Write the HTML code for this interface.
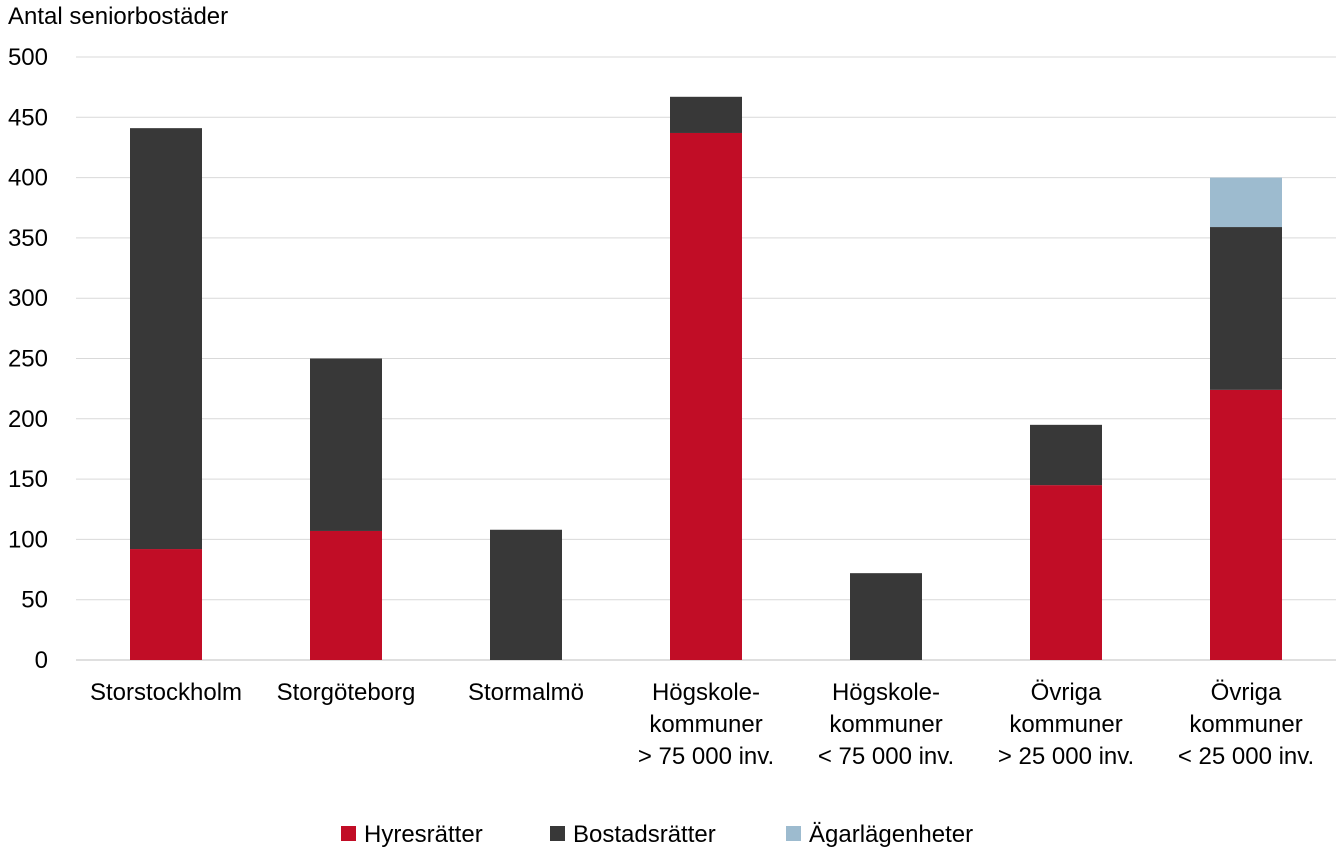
<!DOCTYPE html>
<html><head><meta charset="utf-8"><style>
body{margin:0;background:#fff;}
svg{display:block;font-family:"Liberation Sans",Arial,sans-serif;}
</style></head><body>
<svg id="chart" width="1336" height="851" viewBox="0 0 1336 851">
<text x="8" y="24" font-size="24" fill="#000">Antal seniorbostäder</text>
<g id="grid"></g><g id="bars"></g><g id="xlabels"></g>
<g>
<g><rect x="341" y="826" width="15" height="15" fill="#c10d26"/><text x="364" y="842" font-size="24">Hyresrätter</text></g>
<g><rect x="550" y="826" width="15" height="15" fill="#383838"/><text x="573" y="842" font-size="24">Bostadsrätter</text></g>
<g><rect x="786" y="826" width="15" height="15" fill="#9dbbcf"/><text x="809" y="842" font-size="24">Ägarlägenheter</text></g>
</g>
</svg>
<script>
const categories=[["Storstockholm"],["Storgöteborg"],["Stormalmö"],["Högskole-","kommuner","> 75 000 inv."],["Högskole-","kommuner","< 75 000 inv."],["Övriga","kommuner","> 25 000 inv."],["Övriga","kommuner","< 25 000 inv."]];
const hyresratter=[92,107,0,437,0,145,224];
const bostadsratter=[349,143,108,30,72,50,135];
const agarlagenheter=[0,0,0,0,0,0,41];
const yTicks=[0,50,100,150,200,250,300,350,400,450,500];
const colors=["#c10d26","#383838","#9dbbcf"];
const names=["hyresratter","bostadsratter","agarlagenheter"];
const NS="http://www.w3.org/2000/svg";
const y0=660,y1=57,yMax=500,left=76,step=180,bw=72;
const y=v=>y0-(v/yMax)*(y0-y1);
const xc=i=>left+step*i+step/2;
const grid=document.getElementById('grid');
yTicks.forEach(t=>{
 const l=document.createElementNS(NS,'line');
 l.setAttribute('x1',left);l.setAttribute('x2',1336);l.setAttribute('y1',y(t));l.setAttribute('y2',y(t));
 l.setAttribute('stroke',t===0?'#bfbfbf':'#d9d9d9');l.setAttribute('stroke-width','1');
 
 
 grid.appendChild(l);
 const tx=document.createElementNS(NS,'text');
 tx.setAttribute('x',48);tx.setAttribute('y',y(t)+8);tx.setAttribute('text-anchor','end');tx.setAttribute('font-size','24');
 tx.textContent=t;
 
 
 grid.appendChild(tx);
});
const bars=document.getElementById('bars');
const series=[hyresratter,bostadsratter,agarlagenheter];
categories.forEach((c,i)=>{
 let base=0;
 series.forEach((s,k)=>{
  const v=s[i];if(v<=0)return;
  const r=document.createElementNS(NS,'rect');
  r.setAttribute('x',xc(i)-bw/2);r.setAttribute('width',bw);
  r.setAttribute('y',y(base+v));r.setAttribute('height',y(base)-y(base+v));
  r.setAttribute('fill',colors[k]);
  
  
  bars.appendChild(r);
  base+=v;
 });
 const t=document.createElementNS(NS,'text');
 t.setAttribute('text-anchor','middle');t.setAttribute('font-size','24');
 
 
 c.forEach((line,j)=>{
  const sp=document.createElementNS(NS,'tspan');
  sp.setAttribute('x',xc(i));sp.setAttribute('y',700+j*32);sp.textContent=line;t.appendChild(sp);
 });
 document.getElementById('xlabels').appendChild(t);
});
</script>
</body></html>
